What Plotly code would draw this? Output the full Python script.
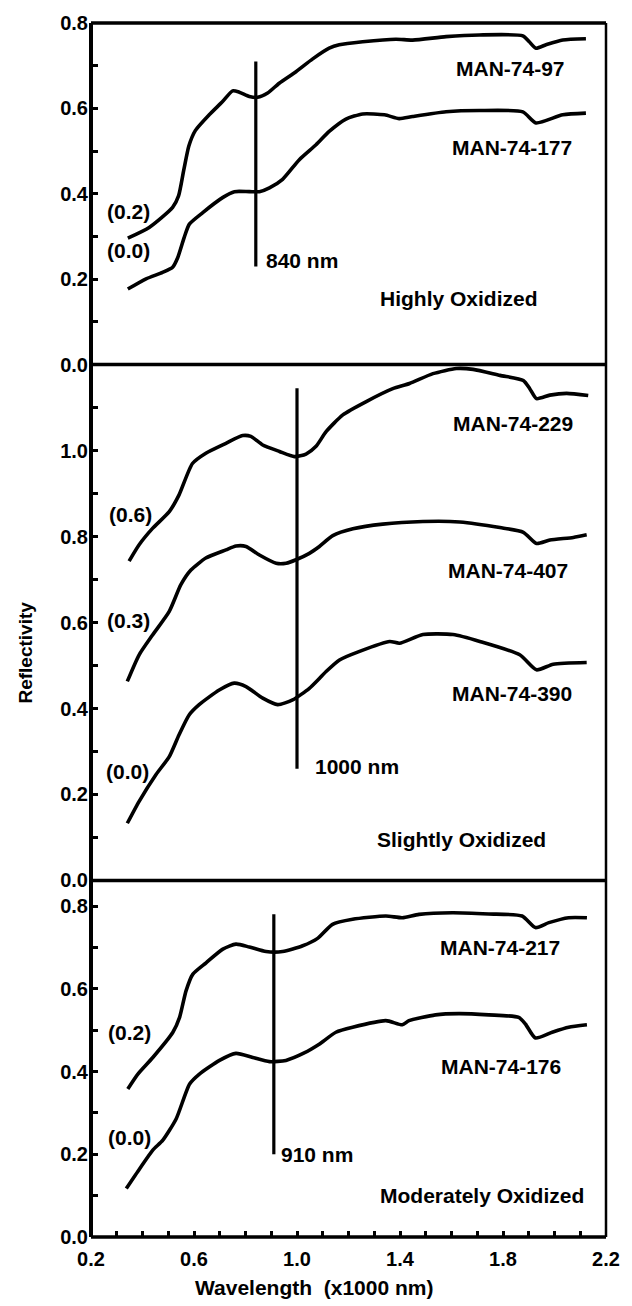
import plotly.graph_objects as go

# ---- Highly oxidized samples (wavelength in x1000 nm, offset reflectivity) ----
hi_97_wl = [0.343, 0.426, 0.517, 0.540, 0.560, 0.580, 0.605, 0.659, 0.711, 0.750, 0.776,
            0.815, 0.847, 0.886, 0.931, 0.996, 1.061, 1.125, 1.164, 1.255, 1.384, 1.449,
            1.579, 1.708, 1.877, 1.902, 1.928, 1.967, 2.032, 2.122]
hi_97_r = [0.296, 0.321, 0.368, 0.395, 0.455, 0.512, 0.548, 0.585, 0.616, 0.641, 0.638,
           0.628, 0.626, 0.636, 0.659, 0.686, 0.716, 0.741, 0.749, 0.756, 0.762, 0.760,
           0.768, 0.772, 0.770, 0.756, 0.741, 0.749, 0.760, 0.763]

hi_177_wl = [0.343, 0.414, 0.478, 0.517, 0.537, 0.562, 0.582, 0.634, 0.711, 0.757, 0.815,
             0.854, 0.893, 0.944, 1.009, 1.074, 1.125, 1.190, 1.255, 1.340, 1.397, 1.449,
             1.579, 1.708, 1.877, 1.928, 2.032, 2.122]
hi_177_r = [0.177, 0.201, 0.216, 0.228, 0.251, 0.298, 0.329, 0.356, 0.391, 0.405, 0.405,
            0.405, 0.414, 0.434, 0.480, 0.515, 0.546, 0.575, 0.587, 0.585, 0.576, 0.581,
            0.592, 0.595, 0.592, 0.566, 0.585, 0.589]

# ---- Slightly oxidized samples ----
sl_229_wl = [0.348, 0.387, 0.439, 0.504, 0.542, 0.594, 0.646, 0.724, 0.789, 0.821, 0.867,
             0.932, 0.990, 1.035, 1.074, 1.113, 1.178, 1.269, 1.372, 1.437, 1.528, 1.619,
             1.684, 1.788, 1.879, 1.904, 1.930, 1.982, 2.047, 2.131]
sl_229_r = [0.743, 0.781, 0.819, 0.858, 0.897, 0.970, 0.994, 1.017, 1.035, 1.033, 1.013,
            0.998, 0.986, 0.992, 1.010, 1.044, 1.083, 1.114, 1.144, 1.156, 1.179, 1.191,
            1.189, 1.175, 1.163, 1.144, 1.121, 1.129, 1.133, 1.128]

sl_407_wl = [0.341, 0.387, 0.439, 0.504, 0.549, 0.588, 0.646, 0.724, 0.763, 0.802, 0.854,
             0.919, 0.958, 0.996, 1.048, 1.087, 1.139, 1.217, 1.333, 1.489, 1.632, 1.788,
             1.879, 1.930, 1.982, 2.073, 2.125]
sl_407_r = [0.463, 0.525, 0.571, 0.626, 0.688, 0.722, 0.750, 0.769, 0.778, 0.777, 0.757,
            0.738, 0.738, 0.746, 0.761, 0.777, 0.802, 0.818, 0.829, 0.835, 0.834, 0.821,
            0.810, 0.784, 0.792, 0.798, 0.804]

sl_390_wl = [0.341, 0.387, 0.452, 0.504, 0.542, 0.581, 0.620, 0.698, 0.756, 0.802, 0.867,
             0.925, 0.983, 1.048, 1.087, 1.113, 1.165, 1.243, 1.360, 1.398, 1.489, 1.606,
             1.710, 1.865, 1.930, 1.995, 2.125]
sl_390_r = [0.133, 0.184, 0.246, 0.288, 0.339, 0.385, 0.409, 0.443, 0.459, 0.451, 0.424,
            0.409, 0.420, 0.447, 0.470, 0.486, 0.513, 0.533, 0.556, 0.552, 0.572, 0.572,
            0.556, 0.525, 0.490, 0.503, 0.507]

# ---- Moderately oxidized samples ----
mo_217_wl = [0.343, 0.382, 0.440, 0.518, 0.544, 0.569, 0.595, 0.647, 0.712, 0.763, 0.815,
             0.880, 0.944, 1.022, 1.080, 1.138, 1.216, 1.345, 1.409, 1.474, 1.603, 1.745,
             1.874, 1.926, 1.978, 2.055, 2.126]
mo_217_r = [0.358, 0.394, 0.434, 0.495, 0.531, 0.595, 0.635, 0.663, 0.696, 0.708, 0.701,
            0.690, 0.690, 0.704, 0.722, 0.756, 0.768, 0.776, 0.772, 0.780, 0.784, 0.781,
            0.776, 0.748, 0.760, 0.772, 0.772]

mo_176_wl = [0.337, 0.389, 0.440, 0.479, 0.531, 0.583, 0.621, 0.699, 0.763, 0.828, 0.893,
             0.957, 1.028, 1.086, 1.151, 1.216, 1.345, 1.409, 1.435, 1.538, 1.629, 1.745,
             1.861, 1.887, 1.926, 1.991, 2.055, 2.126]
mo_176_r = [0.117, 0.165, 0.210, 0.234, 0.286, 0.370, 0.394, 0.427, 0.444, 0.434, 0.424,
            0.427, 0.445, 0.466, 0.495, 0.507, 0.523, 0.513, 0.523, 0.537, 0.540, 0.537,
            0.531, 0.515, 0.481, 0.495, 0.507, 0.513]

# ---- Absorption band markers ----
band_nm = [840, 1000, 910]
band_top = [0.71, 1.145, 0.78]
band_bottom = [0.23, 0.26, 0.20]

# ---- Panel ranges and tick labels ----
panel_ymax = [0.8, 1.2, 0.862]
x_tick_labels = ["0.2", "0.6", "1.0", "1.4", "1.8", "2.2"]

FONT = "Liberation Sans"
BLACK = "#000000"
LW = 3.6

fig = go.Figure()

curves = [
    (hi_97_wl, hi_97_r, "x", "y"),
    (hi_177_wl, hi_177_r, "x", "y"),
    (sl_229_wl, sl_229_r, "x2", "y2"),
    (sl_407_wl, sl_407_r, "x2", "y2"),
    (sl_390_wl, sl_390_r, "x2", "y2"),
    (mo_217_wl, mo_217_r, "x3", "y3"),
    (mo_176_wl, mo_176_r, "x3", "y3"),
]
for wl, r, xa, ya in curves:
    fig.add_trace(go.Scatter(x=wl, y=r, xaxis=xa, yaxis=ya, mode="lines",
                             line=dict(color=BLACK, width=LW, shape="spline", smoothing=0.6),
                             showlegend=False, hoverinfo="skip"))

axes_pairs = [("x", "y"), ("x2", "y2"), ("x3", "y3")]
for nm, top, bot, (xa, ya) in zip(band_nm, band_top, band_bottom, axes_pairs):
    fig.add_trace(go.Scatter(x=[nm / 1000, nm / 1000], y=[bot, top], xaxis=xa, yaxis=ya,
                             mode="lines", line=dict(color=BLACK, width=3.2),
                             showlegend=False, hoverinfo="skip"))

# Text labels: (text, x, y, axis suffix, xanchor)
labels = [
    ("(0.2)", 0.344, 0.359, "", "center"),
    ("(0.0)", 0.344, 0.268, "", "center"),
    ("840 nm", 0.870, 0.243, "", "left"),
    ("MAN-74-97", 1.831, 0.694, "", "center"),
    ("MAN-74-177", 1.835, 0.508, "", "center"),
    ("Highly Oxidized", 1.629, 0.154, "", "center"),
    ("(0.6)", 0.352, 0.851, "2", "center"),
    ("(0.3)", 0.344, 0.605, "2", "center"),
    ("(0.0)", 0.340, 0.253, "2", "center"),
    ("1000 nm", 1.064, 0.264, "2", "left"),
    ("MAN-74-229", 1.838, 1.064, "2", "center"),
    ("MAN-74-407", 1.819, 0.722, "2", "center"),
    ("MAN-74-390", 1.834, 0.436, "2", "center"),
    ("Slightly Oxidized", 1.640, 0.095, "2", "center"),
    ("(0.2)", 0.351, 0.494, "3", "center"),
    ("(0.0)", 0.351, 0.241, "3", "center"),
    ("910 nm", 0.932, 0.199, "3", "left"),
    ("MAN-74-217", 1.789, 0.701, "3", "center"),
    ("MAN-74-176", 1.791, 0.412, "3", "center"),
    ("Moderately Oxidized", 1.717, 0.100, "3", "center"),
]
for text, x, y, suf, xanc in labels:
    fig.add_annotation(text=text, x=x, y=y, xref="x" + suf, yref="y" + suf,
                       xanchor=xanc, yanchor="middle", showarrow=False,
                       font=dict(family=FONT, size=21, color=BLACK, weight="bold"))

# Panel stacking (fractions of the plot area)
split_mid_top = 0.7186
split_bot_mid = 0.2937
domains = [[split_mid_top, 1.0], [split_bot_mid, split_mid_top], [0.0, split_bot_mid]]

x_ticks = [round(0.2 + 0.1 * i, 1) for i in range(21)]
x_text = [f"{v:.1f}" if f"{v:.1f}" in x_tick_labels else "" for v in x_ticks]

tick_font = dict(family=FONT, size=20, color=BLACK, weight="bold")

layout = dict(
    width=632, height=1306,
    margin=dict(l=91, r=25, t=18, b=69),
    paper_bgcolor="white", plot_bgcolor="white",
    showlegend=False,
)

for i, (ymax, dom) in enumerate(zip(panel_ymax, domains)):
    suf = "" if i == 0 else str(i + 1)
    n = int(round(ymax * 10 + 1e-9))
    yt = [round(0.1 * k, 1) for k in range(n + 1) if 0.1 * k <= ymax + 1e-9]
    ytext = []
    for v in yt:
        if round(v * 10) % 2 == 0 and not (i == 1 and v >= 1.15):
            ytext.append(f"{v:.1f}")
        else:
            ytext.append("")
    layout["yaxis" + suf] = dict(
        domain=dom, range=[0, ymax], anchor="x" + suf,
        tickmode="array", tickvals=yt, ticktext=ytext,
        ticks="inside", ticklen=7, tickwidth=3, tickcolor=BLACK,
        showline=False, showgrid=False, zeroline=False,
        tickfont=tick_font, ticklabelstandoff=2,
    )
    xa = dict(
        domain=[0, 1], range=[0.2, 2.2], anchor="y" + suf,
        showline=False, showgrid=False, zeroline=False,
    )
    if i == 2:
        xa.update(tickmode="array", tickvals=x_ticks, ticktext=x_text,
                  ticks="inside", ticklen=6, tickwidth=3, tickcolor=BLACK,
                  tickfont=tick_font, ticklabelstandoff=8)
    else:
        xa.update(ticks="", showticklabels=False)
    layout["xaxis" + suf] = xa

fig.update_layout(**layout)

# Frame around the stacked panels and the dividers between them
frame = [
    (0, 0, 0, 1, 4),        # left
    (1, 0, 1, 1, 2.5),      # right
    (0, 1, 1, 1, 3.5),      # top
    (0, 0, 1, 0, 3.5),      # bottom
    (0, split_mid_top, 1, split_mid_top, 3.5),
    (0, split_bot_mid, 1, split_bot_mid, 3.5),
]
for x0, y0, x1, y1, w in frame:
    fig.add_shape(type="line", xref="paper", yref="paper", x0=x0, y0=y0, x1=x1, y1=y1,
                  line=dict(color=BLACK, width=w))

# Axis titles, placed in pixels converted to plot-area fractions
plot_w = 632 - 91 - 25
plot_h = 1306 - 18 - 69
fig.add_annotation(text="Wavelength\u00a0\u00a0(x1000 nm)",
                   x=(314 - 91) / plot_w, y=(1237 - 1288) / plot_h,
                   xref="paper", yref="paper", xanchor="center", yanchor="middle",
                   showarrow=False, font=dict(family=FONT, size=21, color=BLACK, weight="bold"))
fig.add_annotation(text="Reflectivity", textangle=-90,
                   x=(25 - 91) / plot_w, y=(1237 - 650) / plot_h,
                   xref="paper", yref="paper", xanchor="center", yanchor="middle",
                   showarrow=False, font=dict(family=FONT, size=19, color=BLACK, weight="bold"))

fig.write_html("out.html")
